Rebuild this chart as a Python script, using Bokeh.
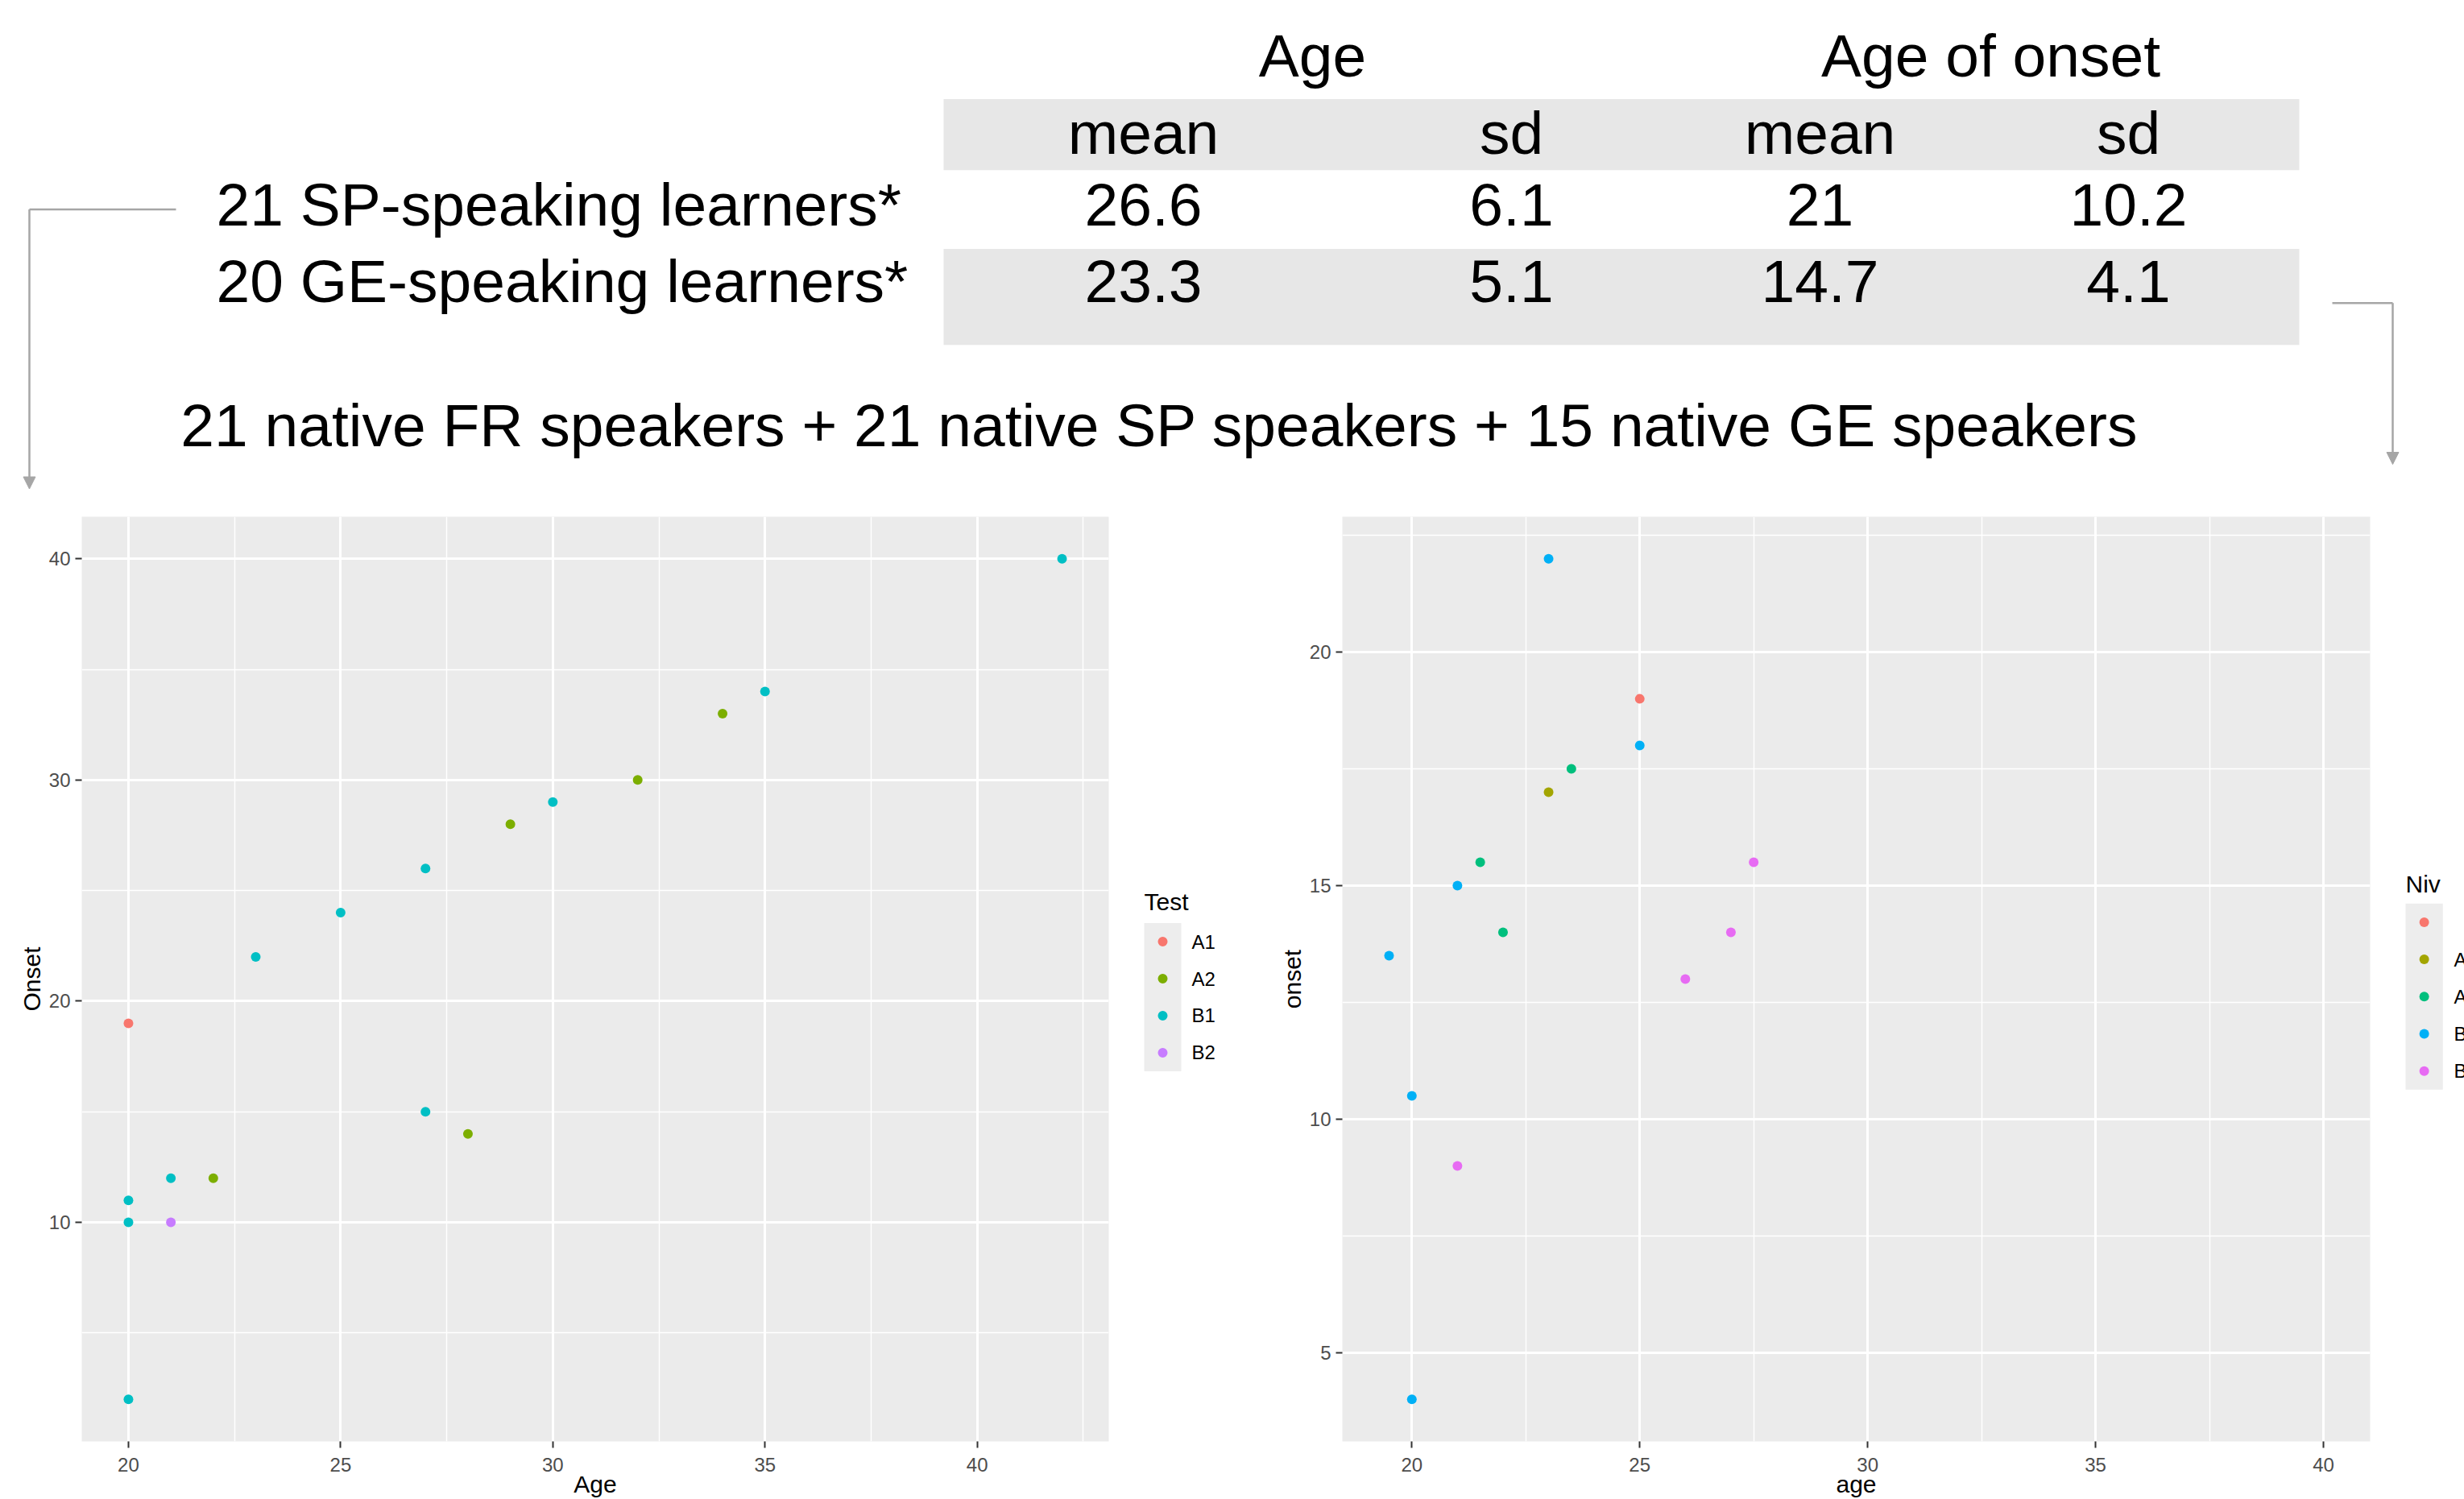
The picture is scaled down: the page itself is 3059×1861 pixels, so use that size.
from bokeh.plotting import figure
from bokeh.layouts import row, column
from bokeh.models import Range1d, ColumnDataSource, SingleIntervalTicker, Arrow, NormalHead
from bokeh.core.properties import value
from bokeh.embed import file_html
from bokeh.resources import INLINE

# ---------------- data ----------------
group_labels = ["21 SP-speaking learners*", "20 GE-speaking learners*"]
stat_groups = ["Age", "Age of onset"]
stat_names = ["mean", "sd", "mean", "sd"]
age_mean = [26.6, 23.3]
age_sd = [6.1, 5.1]
onset_mean = [21, 14.7]
onset_sd = [10.2, 4.1]
native_counts = [21, 21, 15]
native_langs = ["FR", "SP", "GE"]

# left panel: Age vs Onset, coloured by Test
test_age = [20, 20, 20, 20, 21, 21, 22, 23, 25, 27, 27, 28, 29, 30, 32, 34, 35, 42]
test_onset = [19, 11, 10, 2, 12, 10, 12, 22, 24, 26, 15, 14, 28, 29, 30, 33, 34, 40]
test_level = ["A1", "B1", "B1", "B1", "B1", "B2", "A2", "B1", "B1", "B1", "B1", "A2",
              "A2", "B1", "A2", "A2", "B1", "B1"]
test_levels = ["A1", "A2", "B1", "B2"]
test_colors = ["#F8766D", "#7CAE00", "#00BFC4", "#C77CFF"]
test_x_limits = [20, 42]
test_y_limits = [2, 40]

# right panel: age vs onset, coloured by Niv
niv_age = [19.5, 20, 20, 21, 21, 21.5, 22, 23, 23, 23.5, 25, 25, 26, 27, 27.5]
niv_onset = [13.5, 10.5, 4, 15, 9, 15.5, 14, 22, 17, 17.5, 19, 18, 13, 14, 15.5]
niv_level = ["B1", "B1", "B1", "B1", "B2", "A2", "A2", "B1", "A1", "A2", "", "B1", "B2", "B2", "B2"]
niv_levels = ["", "A1", "A2", "B1", "B2"]
niv_colors = ["#F8766D", "#A3A500", "#00BF7D", "#00B0F6", "#E76BF3"]
niv_x_limits = [19.5, 40]
niv_y_limits = [4, 22]

# ---------------- layout constants ----------------
FONT = "Liberation Sans"
PAGE_W, PAGE_H = 3059, 1861
HEADER_H = 608
PLOT_H = PAGE_H - HEADER_H
PLOT_TOP, PLOT_BOTTOM = 33, 71
PANEL_BG = "#EBEBEB"
KEY_BG = "#EDEDED"
BAND = "#E7E7E7"
ARROW_C = "#A6A6A6"
BASE_FIX = 0.35  # em offset applied to alphabetic baselines


def expand(lim, mult=0.05):
    d = (lim[1] - lim[0]) * mult
    return lim[0] - d, lim[1] + d


def fmt(v):
    return f"{v:g}"


def base(y, size):
    return y - BASE_FIX * size


# ---------------- header (table + text + arrows) ----------------
header = figure(width=PAGE_W, height=HEADER_H, x_range=Range1d(0, PAGE_W),
                y_range=Range1d(HEADER_H, 0), output_backend="svg", toolbar_location=None,
                x_axis_location=None, y_axis_location=None, min_border=0,
                outline_line_color=None, background_fill_color="white",
                border_fill_color="white")
header.grid.visible = False

tbl_left, tbl_right = 1171, 2854
header.quad(left=[tbl_left, tbl_left], right=[tbl_right, tbl_right],
            top=[122.6, 308.4], bottom=[210.8, 427.8], fill_color=BAND, line_color=None)

HS = 75
col_x = [1419, 1876, 2259, 2642]
group_x = [1629, 2471]
row_base = [280, 375]
txt = dict(text_font=value(FONT), text_font_size=f"{HS}px", text_color="black",
           text_baseline="alphabetic")

header.text(x=group_x, y=[base(95, HS)] * 2, text=stat_groups, text_align="center", **txt)
header.text(x=col_x, y=[base(190.5, HS)] * 4, text=stat_names, text_align="center", **txt)

cx, cy, ct = [], [], []
for r in range(len(group_labels)):
    for c, arr in enumerate([age_mean, age_sd, onset_mean, onset_sd]):
        cx.append(col_x[c])
        cy.append(base(row_base[r], HS))
        ct.append(fmt(arr[r]))
header.text(x=cx, y=cy, text=ct, text_align="center", **txt)
header.text(x=[268] * len(group_labels), y=[base(b, HS) for b in row_base],
            text=group_labels, text_align="left", **txt)

native_line = " + ".join(f"{n} native {l} speakers" for n, l in zip(native_counts, native_langs))
header.text(x=[1439], y=[base(553.6, HS)], text=[native_line], text_align="center", **txt)

# connector arrows
header.segment(x0=[218, 2895], y0=[259.5, 375.7], x1=[36, 2970], y1=[259.5, 375.7],
               line_color=ARROW_C, line_width=2.5)
for xa, ya, yb in [(36, 259.5, 606.5), (2970, 375.7, 576)]:
    header.add_layout(Arrow(x_start=xa, y_start=ya, x_end=xa, y_end=yb,
                            line_color=ARROW_C, line_width=2.5,
                            end=NormalHead(size=15, fill_color=ARROW_C, line_color=ARROW_C,
                                           line_width=1)))


# ---------------- scatter panels ----------------
def make_scatter(width, min_left, min_right, x_lim, y_lim, y_step, xs, ys, cols, x_title, y_title):
    x0, x1 = expand(x_lim)
    y0, y1 = expand(y_lim)
    f = figure(width=width, height=PLOT_H, x_range=Range1d(x0, x1), y_range=Range1d(y0, y1),
               output_backend="svg", toolbar_location=None,
               min_border_left=min_left, min_border_right=min_right,
               min_border_top=PLOT_TOP, min_border_bottom=PLOT_BOTTOM,
               background_fill_color=PANEL_BG, border_fill_color="white",
               outline_line_color=None)
    f.xaxis.ticker = SingleIntervalTicker(interval=5, num_minor_ticks=2)
    f.yaxis.ticker = SingleIntervalTicker(interval=y_step, num_minor_ticks=2)
    for ax in (f.xaxis[0], f.yaxis[0]):
        ax.axis_line_color = None
        ax.major_tick_in = 0
        ax.major_tick_out = 8
        ax.major_tick_line_color = "#333333"
        ax.major_tick_line_width = 2
        ax.minor_tick_line_color = None
        ax.major_label_text_font = FONT
        ax.major_label_text_font_size = "24px"
        ax.major_label_text_color = "#4D4D4D"
        ax.major_label_standoff = 6
        ax.axis_label_text_font = FONT
        ax.axis_label_text_font_size = "30px"
        ax.axis_label_text_font_style = "normal"
        ax.axis_label_text_color = "black"
    f.xaxis.major_label_standoff = 12
    f.xaxis.axis_label = x_title
    f.xaxis.axis_label_standoff = -4
    f.yaxis.axis_label = y_title
    f.yaxis.axis_label_standoff = 2
    f.grid.grid_line_color = "white"
    f.grid.grid_line_width = 2.9
    f.grid.minor_grid_line_color = "white"
    f.grid.minor_grid_line_width = 1.4
    src = ColumnDataSource(dict(x=xs, y=ys, c=cols))
    f.scatter("x", "y", source=src, size=12, fill_color="c", line_color=None)
    return f


def make_legend(width, title, levels, colors, left, title_base, box_top, key, label_x):
    # same borders as the plots, so that local y values are pixels from the figure top
    f = figure(width=width, height=PLOT_H, x_range=Range1d(0, width),
               y_range=Range1d(PLOT_H - PLOT_BOTTOM, PLOT_TOP), output_backend="svg",
               toolbar_location=None, x_axis_location=None, y_axis_location=None,
               min_border_left=0, min_border_right=0,
               min_border_top=PLOT_TOP, min_border_bottom=PLOT_BOTTOM,
               outline_line_color=None, background_fill_color="white",
               border_fill_color="white")
    f.grid.visible = False
    f.text(x=[left], y=[base(title_base, 30)], text=[title], text_font=value(FONT),
           text_font_size="30px", text_align="left", text_baseline="alphabetic",
           text_color="black")
    n = len(levels)
    f.quad(left=[left], right=[left + key], top=[box_top], bottom=[box_top + n * key],
           fill_color=KEY_BG, line_color=None)
    ys = [box_top + key * (i + 0.5) for i in range(n)]
    f.scatter(x=[left + key / 2] * n, y=ys, fill_color=colors, line_color=None, size=12)
    f.text(x=[label_x] * n, y=ys, text=levels, text_font=value(FONT), text_font_size="24px",
           text_align="left", text_baseline="middle", text_color="black")
    return f


test_cols = [test_colors[test_levels.index(l)] for l in test_level]
niv_cols = [niv_colors[niv_levels.index(l)] for l in niv_level]

left_plot = make_scatter(1398, 101, 22, test_x_limits, test_y_limits, 10,
                         test_age, test_onset, test_cols, "Age", "Onset")
left_leg = make_legend(170, "Test", test_levels, test_colors, 22, 1130 - HEADER_H,
                       1146 - HEADER_H, 46, 81)
right_plot = make_scatter(1390, 98, 16, niv_x_limits, niv_y_limits, 5,
                          niv_age, niv_onset, niv_cols, "age", "onset")
right_leg = make_legend(101, "Niv", niv_levels, niv_colors, 28, 1108 - HEADER_H,
                        1121.7 - HEADER_H, 46.25, 88)

layout = column(header, row(left_plot, left_leg, right_plot, right_leg))

with open("out.html", "w") as fh:
    fh.write(file_html(layout, INLINE))
